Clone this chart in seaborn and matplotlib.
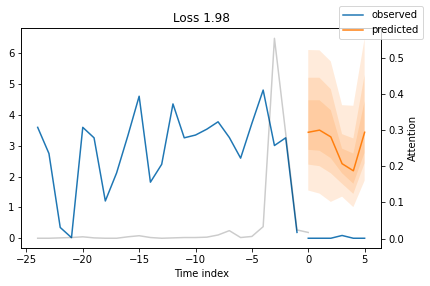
import numpy as np
import matplotlib
matplotlib.use("Agg")
import matplotlib.pyplot as plt
import seaborn as sns

# ---- data ----
enc_x = list(range(-24, 0))
observed_enc = [3.60, 2.75, 0.35, 0.02, 3.60, 3.26, 1.21, 2.12, 3.33, 4.61,
                1.82, 2.40, 4.36, 3.26, 3.35, 3.54, 3.78, 3.27, 2.60, 3.73,
                4.81, 3.01, 3.26, 0.19]
dec_x = list(range(0, 6))
observed_dec = [0.0, 0.0, 0.0, 0.09, 0.0, 0.0]
predicted = [3.44, 3.51, 3.29, 2.42, 2.19, 3.44]
q02 = [1.55, 1.45, 1.18, 1.35, 1.01, 1.87]
q10 = [2.39, 2.34, 2.11, 1.77, 1.44, 2.44]
q25 = [2.87, 2.84, 2.60, 2.11, 1.77, 2.78]
q75 = [4.48, 4.48, 4.16, 2.91, 2.75, 4.45]
q90 = [5.21, 5.21, 4.84, 3.38, 3.24, 5.30]
q98 = [6.11, 6.10, 5.74, 4.32, 4.30, 6.49]
att_x = list(range(-24, 1))
attention = [0.001, 0.001, 0.002, 0.003, 0.005, 0.002, 0.001, 0.001, 0.005, 0.008,
             0.003, 0.001, 0.002, 0.003, 0.003, 0.004, 0.010, 0.022, 0.003, 0.006,
             0.033, 0.553, 0.29, 0.024, 0.017]

title = "Loss 1.98"

# ---- plot ----
plt.rcParams["font.size"] = 10
fig = plt.figure(figsize=(430 / 72, 286 / 72), dpi=72)
ax = fig.add_axes([0.0496, 0.132, 0.8364, 0.769])

blue = "#1f77b4"
orange = "#ff7f0e"

sns.lineplot(x=enc_x, y=observed_enc, ax=ax, color=blue, label="observed")
sns.lineplot(x=dec_x, y=observed_dec, ax=ax, color=blue)
sns.lineplot(x=dec_x, y=predicted, ax=ax, color=orange, label="predicted")
for lo, hi in [(q25, q75), (q10, q90), (q02, q98)]:
    ax.fill_between(dec_x, lo, hi, alpha=0.15, fc=orange, lw=0)
ax.get_legend().remove()

ax2 = ax.twinx()
sns.lineplot(x=att_x, y=attention, ax=ax2, color="k", alpha=0.2)
ax2.set_ylabel("Attention")

ax.set_title(title)
ax.set_xlabel("Time index")
ax.set_ylabel("")
ax.set_xticks([-25, -20, -15, -10, -5, 0, 5])
ax.set_yticks([0, 1, 2, 3, 4, 5, 6])
ax2.set_yticks([0.0, 0.1, 0.2, 0.3, 0.4, 0.5])

h, l = ax.get_legend_handles_labels()
fig.legend(h, l, loc="upper right", bbox_to_anchor=(0.995, 0.995))

fig.savefig("out.png", dpi=72)
